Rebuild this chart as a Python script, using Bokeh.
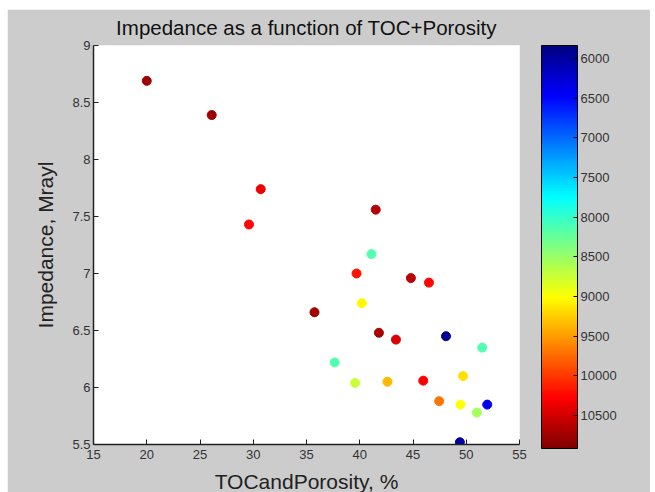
import numpy as np
from bokeh.plotting import figure
from bokeh.models import (ColumnDataSource, LinearColorMapper, ColorBar, FixedTicker, Range1d,
                          CustomJSTickFormatter, AllLabels)
from bokeh.transform import transform
from bokeh.embed import file_html
from bokeh.resources import INLINE

# ---- data ----
toc_porosity = [20.0, 26.1, 30.7, 29.6, 41.5, 41.1, 39.7, 44.8, 46.5, 40.2,
                35.75, 41.8, 43.4, 48.1, 51.5, 37.65, 39.57, 42.6, 45.96, 49.7,
                47.46, 49.46, 51.97, 51.0, 49.4]
impedance = [8.69, 8.39, 7.74, 7.43, 7.56, 7.17, 7.00, 6.96, 6.92, 6.74,
             6.66, 6.48, 6.42, 6.45, 6.35, 6.22, 6.04, 6.05, 6.06, 6.10,
             5.88, 5.85, 5.85, 5.78, 5.52]
depth = [10750, 10750, 10350, 10250, 10650, 8150, 10200, 10600, 10250, 9050,
         10750, 10700, 10450, 5950, 8150, 8150, 8750, 9350, 10300, 9150,
         9700, 9000, 6400, 8550, 6050]

x_ticks = [15, 20, 25, 30, 35, 40, 45, 50, 55]
y_ticks = [5.5, 6, 6.5, 7, 7.5, 8, 8.5, 9]
y_tick_labels = ["5.5", "6", "6.5", "7", "7.5", "8", "8.5", "9"]
cbar_ticks = [6000, 6500, 7000, 7500, 8000, 8500, 9000, 9500, 10000, 10500]
cbar_low, cbar_high = 5836, 10916

# ---- jet palette ----
def jet(n=256):
    t = np.linspace(0, 1, n)
    r = np.clip(1.5 - np.abs(4 * t - 3), 0, 1)
    g = np.clip(1.5 - np.abs(4 * t - 2), 0, 1)
    b = np.clip(1.5 - np.abs(4 * t - 1), 0, 1)
    return ["#%02x%02x%02x" % (int(round(rr * 255)), int(round(gg * 255)), int(round(bb * 255)))
            for rr, gg, bb in zip(r, g, b)]

pal = jet()

src = ColumnDataSource(dict(x=toc_porosity, y=impedance, d=depth))
mapper = LinearColorMapper(palette=pal, low=cbar_low, high=cbar_high)

BG = "#cccccc"
FONT = "Liberation Sans"
p = figure(frame_width=426, frame_height=399, x_range=Range1d(15, 55), y_range=Range1d(5.5, 9),
           output_backend="svg", toolbar_location=None,
           min_border_left=86, min_border_right=131, min_border_top=36, min_border_bottom=47,
           background_fill_color="white", border_fill_color=BG, outline_line_color=None,
           title="Impedance as a function of TOC+Porosity")
p.margin = (9, 0, 0, 7)

p.scatter("x", "y", source=src, size=9, fill_color=transform("d", mapper),
          line_color=transform("d", mapper))

p.grid.visible = False
p.title.align = "center"
p.title.vertical_align = "top"
p.title.text_font = FONT
p.title.text_font_size = "20.5px"
p.title.text_font_style = "normal"
p.title.text_color = "#111111"
p.title.standoff = 10

for ax in (p.xaxis[0], p.yaxis[0]):
    ax.axis_line_color = "#222222"
    ax.axis_line_width = 1.5
    ax.major_tick_line_color = "#222222"
    ax.major_tick_in = 5
    ax.major_tick_out = 0
    ax.minor_tick_line_color = None
    ax.major_label_text_font = FONT
    ax.major_label_text_font_size = "13px"
    ax.major_label_text_color = "#333333"
    ax.axis_label_text_font = FONT
    ax.axis_label_text_font_style = "normal"
    ax.axis_label_text_color = "#222222"
    ax.axis_label_text_font_size = "21px"

p.xaxis.major_label_standoff = 5
p.yaxis.major_label_standoff = 3
p.xaxis.ticker = FixedTicker(ticks=x_ticks)
p.yaxis.ticker = FixedTicker(ticks=y_ticks)
p.yaxis.major_label_overrides = {float(t): l for t, l in zip(y_ticks, y_tick_labels)}
p.xaxis.axis_label = "TOCandPorosity, %"
p.yaxis.axis_label = "Impedance, Mrayl"
p.xaxis.axis_label_standoff = 8
p.yaxis.axis_label_standoff = 12

# colour bar, drawn with the low end on top (as in the reference)
bar_mapper = LinearColorMapper(palette=pal[::-1], low=-cbar_high, high=-cbar_low)
cb = ColorBar(color_mapper=bar_mapper, width=36, height=403,
              ticker=FixedTicker(ticks=[-t for t in cbar_ticks]),
              formatter=CustomJSTickFormatter(code="return String(Math.round(-tick));"),
              major_label_policy=AllLabels(),
              major_label_text_font=FONT, major_label_text_font_size="13px",
              major_label_text_color="#333333",
              bar_line_color="black", major_tick_line_color="black",
              major_tick_in=4, major_tick_out=0,
              label_standoff=3, padding=0, margin=0,
              background_fill_color=None, border_line_color=None,
              location=(22, -4))
p.add_layout(cb, "right")

open("out.html", "w").write(file_html(p, INLINE))
